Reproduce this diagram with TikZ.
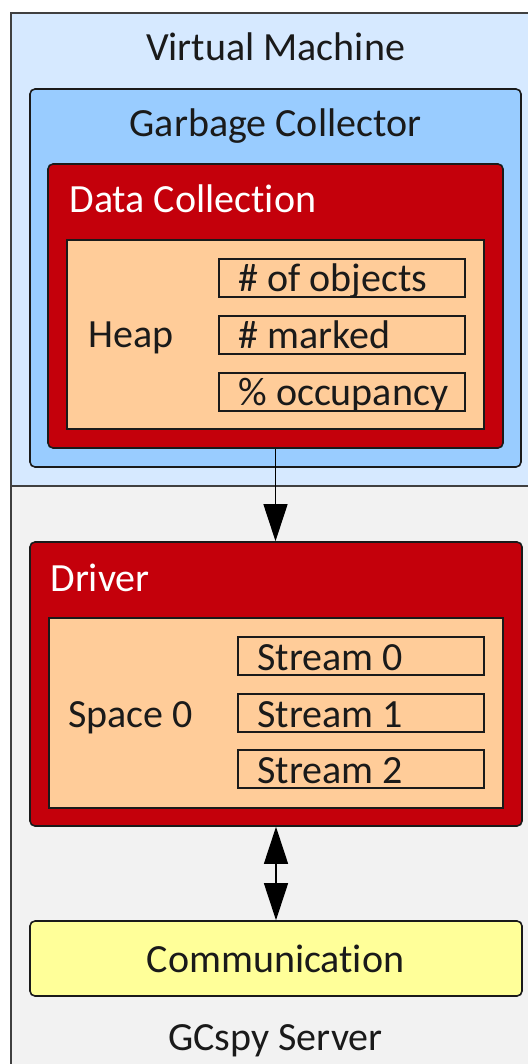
\documentclass[tikz,border=0pt]{standalone}
\usepackage{fontspec}
\setmainfont{Carlito}[RawFeature={-liga;-clig;-calt;-dlig}]
\usepackage{tikz}
\usetikzlibrary{arrows.meta,fit}

\definecolor{vmblue}{RGB}{214,233,255}
\definecolor{gcblue}{RGB}{153,204,255}
\definecolor{dcred}{RGB}{196,0,11}
\definecolor{peach}{RGB}{255,204,153}
\definecolor{commyellow}{RGB}{255,255,153}
\definecolor{servergray}{RGB}{242,242,242}
\definecolor{ink}{RGB}{26,26,26}

\begin{document}
\begin{tikzpicture}[x=0.5pt,y=-0.5pt,
        outer box/.style={draw=black!75,line width=0.8pt,inner sep=0pt},
        round box/.style={draw=ink,line width=0.8pt,rounded corners=2.5pt,inner sep=0pt},
        field box/.style={draw=ink,line width=0.6pt,inner sep=0pt},
        label text/.style={font=\fontsize{20}{24}\selectfont,text=ink,inner sep=0pt,anchor=base west},
        big tip/.tip={Triangle[width=12pt,length=18.5pt]}]

    \clip (0,0) rectangle (528,1064);

    \node[outer box, fill=servergray, fit={(11,486) (560,1090)}] (server) {};
    \node[outer box, fill=vmblue, fit={(11,13) (560,486)}] (vm) {};

    \node[round box, fill=gcblue, fit={(30,89) (521,467)}] (gc) {};
    \node[round box, fill=dcred, fit={(48,164) (503,448)}] (dc) {};
    \node[field box, fill=peach, fit={(67,240) (484,429)}] (heap) {};
    \node[field box, fit={(219,259) (465,297)}] (objects) {};
    \node[field box, fit={(219,316) (465,354)}] (marked) {};
    \node[field box, fit={(219,373) (465,411)}] (occupancy) {};

    \node[round box, fill=dcred, fit={(30,542) (522,826)}] (drv) {};
    \node[field box, fill=peach, fit={(49,618) (503,808)}] (space) {};
    \node[field box, fit={(238,637) (484,675)}] (s0) {};
    \node[field box, fit={(238,694) (484,732)}] (s1) {};
    \node[field box, fit={(238,750) (484,788)}] (s2) {};

    \node[round box, fill=commyellow, fit={(30,921) (522,996)}] (comm) {};

    \node[label text, anchor=base] (vm text) at (275.5,61) {Virtual Machine};
    \node[label text, anchor=base] (gc text) at (275.5,137) {Garbage Collector};
    \node[label text, text=white] (dc text) at (69,213) {Data Collection};
    \node[label text] (heap text) at (88,347) {Heap};
    \node[label text] (objects text) at (238,291) {\# of objects};
    \node[label text] (marked text) at (238,348) {\# marked};
    \node[label text] (occupancy text) at (238,405) {\% occupancy};
    \node[label text, text=white] (drv text) at (50,591) {Driver};
    \node[label text] (space text) at (68,727) {Space 0};
    \node[label text] (s0 text) at (257,670) {Stream 0};
    \node[label text] (s1 text) at (257,727) {Stream 1};
    \node[label text] (s2 text) at (257,783) {Stream 2};
    \node[label text, anchor=base] (comm text) at (275.5,972) {Communication};
    \node[label text, anchor=base] (server text) at (275.5,1050) {GCspy Server};

    \draw[line width=0.6pt, -big tip] (dc.south) -- (dc.south |- drv.north);
    \draw[line width=0.6pt, big tip-big tip] (drv.south) -- (drv.south |- comm.north);

\end{tikzpicture}
\end{document}
